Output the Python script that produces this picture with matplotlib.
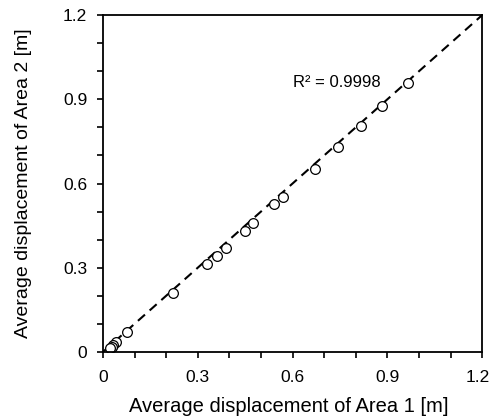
import numpy as np
import matplotlib
matplotlib.use('Agg')
import matplotlib.pyplot as plt
from matplotlib.ticker import MultipleLocator

plt.rcParams['font.family'] = ['Liberation Sans', 'DejaVu Sans']

# ── Data ─────────────────────────────────────────────────────
area1 = [0.965, 0.883, 0.816, 0.743, 0.670, 0.571, 0.540, 0.474, 0.449,
         0.390, 0.362, 0.328, 0.221, 0.075, 0.043, 0.033, 0.028, 0.022]
area2 = [0.957, 0.875, 0.804, 0.730, 0.651, 0.552, 0.527, 0.458, 0.431,
         0.371, 0.343, 0.312, 0.209, 0.072, 0.037, 0.025, 0.019, 0.015]
fit_line = [0, 1.2]
r2_label = 'R² = 0.9998'
axis_max = 1.2

fig = plt.figure(figsize=(4.9, 4.2), dpi=100)
ax = fig.add_axes([0.210, 0.162, 0.774, 0.802])

ax.plot(fit_line, fit_line, color='black', linestyle=(0, (4.5, 3)), linewidth=1.5, zorder=1)
ax.plot(area1, area2, linestyle='none', marker='o', markersize=7,
        markerfacecolor='white', markeredgecolor='black', markeredgewidth=0.9, zorder=2)

ax.text(0.74, 0.96, r2_label, ha='center', va='center', fontsize=12)

ax.set_xlim(0, axis_max)
ax.set_ylim(0, axis_max)
ax.xaxis.set_major_locator(MultipleLocator(0.3))
ax.yaxis.set_major_locator(MultipleLocator(0.3))
ax.xaxis.set_minor_locator(MultipleLocator(0.1))
ax.yaxis.set_minor_locator(MultipleLocator(0.1))
fmt = lambda v, p: '0' if abs(v) < 1e-9 else f'{v:.1f}'
# last x label is drawn separately, nudged left so it stays inside the figure
xfmt = lambda v, p: '' if abs(v - axis_max) < 1e-9 else fmt(v, p)
ax.xaxis.set_major_formatter(xfmt)
ax.yaxis.set_major_formatter(fmt)
ax.tick_params(which='both', direction='out', length=4.2, width=1.2, labelsize=12.5)
ax.tick_params(axis='x', pad=8.5)
ax.tick_params(axis='y', pad=7)
for s in ax.spines.values():
    s.set_linewidth(1.3)

ax.annotate(f'{axis_max:.1f}', xy=(axis_max, 0), xycoords='data',
            xytext=(-3.5, -(4.2 + 8.5)), textcoords='offset points',
            ha='center', va='top', fontsize=12.5, annotation_clip=False)

ax.set_xlabel('Average displacement of Area 1 [m]', fontsize=14.5)
ax.set_ylabel('Average displacement of Area 2 [m]', fontsize=14)
ax.xaxis.set_label_coords(0.49, -0.134)
ax.yaxis.set_label_coords(-0.186, 0.5)

fig.savefig('out.png', dpi=100)
